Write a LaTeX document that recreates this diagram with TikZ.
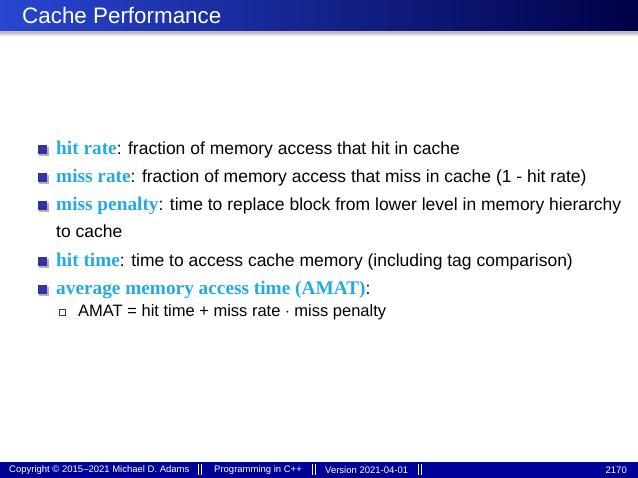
\documentclass[tikz,border=0pt]{standalone}
\usepackage{fontspec}
\setmainfont{Liberation Sans}
\newfontfamily\termfont{Liberation Serif}
\definecolor{term}{RGB}{35,170,230}
\definecolor{bul}{RGB}{50,50,165}
\definecolor{foot}{RGB}{0,0,150}
\definecolor{tleft}{RGB}{40,70,210}
\definecolor{tright}{RGB}{0,0,70}
\tikzset{
  txt/.style={anchor=west,inner sep=0pt,font=\fontsize{17.5}{20}\selectfont},
  bsq/.style={fill=bul,minimum size=9pt,inner sep=0pt},
  ftxt/.style={anchor=west,inner sep=0pt,text=white,font=\fontsize{9.5}{11}\selectfont},
}
\newcommand{\tm}[1]{{\termfont\bfseries\fontsize{19.3}{20}\selectfont\color{term}#1}}
\begin{document}
\begin{tikzpicture}[x=1pt,y=-1pt]
\useasboundingbox (0,0) rectangle (638,478);
\fill[black!25] (0,30) rectangle (638,34);
\fill[black!12] (0,34) rectangle (638,36);
\shade[left color=tleft,right color=tright] (0,0) rectangle (638,31);
\node[anchor=west,inner sep=0pt,text=white,font=\fontsize{22.4}{26}\selectfont] (title) at (22,15) {Cache Performance};
% bullets
\foreach \y/\n in {150/a,178/b,206/c,262/d,290/e}{
  \fill[black!30] (39,\y-3) rectangle (48.5,\y+6.5);
  \node[bsq] (b\n) at (42.5,\y) {};
}
\node[txt] (ta) at (56,150) {\tm{hit rate}: fraction of memory access that hit in cache};
\node[txt] (tb) at (56,178) {\tm{miss rate}: fraction of memory access that miss in cache (1 - hit rate)};
\node[txt] (tc) at (56,206) {\tm{miss penalty}: time to replace block from lower level in memory hierarchy};
\node[txt] (tc2) at (56,231) {to cache};
\node[txt] (td) at (56,262) {\tm{hit time}: time to access cache memory (including tag comparison)};
\node[txt] (te) at (56,290) {\tm{average memory access time (AMAT)}:};
\node[draw=bul,fill=white,minimum size=6pt,inner sep=0pt,line width=0.5pt] (sub) at (62,312) {};
\node[anchor=west,inner sep=0pt,font=\fontsize{16.5}{19}\selectfont] (ts) at (78,312) {AMAT = hit time + miss rate $\cdot$ miss penalty};
% footer
\fill[foot] (0,462) rectangle (638,478);
\node[ftxt] (f1) at (9,470) {Copyright \textcopyright\ 2015--2021 Michael D. Adams};
\node[ftxt] (f2) at (214,470) {Programming in C++};
\node[ftxt] (f3) at (325,470) {Version 2021-04-01};
\foreach \x in {198,312,418}{
  \fill[white] (\x,464.5) rectangle (\x+1.3,475.5);
  \fill[white] (\x+3,464.5) rectangle (\x+4.3,475.5);
}
\node[ftxt,anchor=east] (f4) at (627,470) {2170};
\end{tikzpicture}
\end{document}
